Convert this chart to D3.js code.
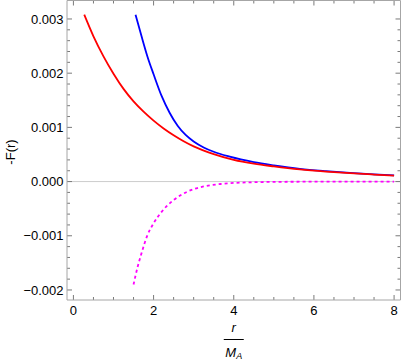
<!DOCTYPE html>
<html lang="en">
<head>
    <meta charset="UTF-8">
    <style>
        body {
            margin: 0;
            background: #fff;
        }
        text {
            font-family: "Liberation Sans", Arial, sans-serif;
            fill: #000;
        }
        .frame line {
            stroke: #a6a6a6;
            stroke-width: 1px;
        }
        .ticks line {
            stroke: #7a7a7a;
            stroke-width: 1px;
        }
    </style>
    <script src="https://d3js.org/d3.v7.min.js"></script>
</head>
<body>
    <svg width="402" height="360"></svg>
</body>

<script>
    // values (y in units of 0.001)
    var redX = [0.27, 0.5, 0.75, 1.0, 1.25, 1.5, 1.75, 2.0, 2.25, 2.5, 2.75, 3.0, 3.5, 4.0, 4.5, 5.0, 5.65, 6.3, 6.9, 7.5, 8.0];
    var redY = [3.08, 2.68, 2.31, 1.99, 1.71, 1.48, 1.29, 1.125, 0.98, 0.855, 0.745, 0.65, 0.506, 0.40, 0.33, 0.28, 0.225, 0.185, 0.155, 0.13, 0.11];

    var blueX = [1.55, 1.7, 1.85, 2.0, 2.2, 2.4, 2.6, 2.8, 3.0, 3.25, 3.5, 3.9, 4.5, 5.0, 5.65, 6.3, 6.9, 7.5, 8.0];
    var blueY = [3.08, 2.68, 2.30, 1.98, 1.58, 1.27, 1.03, 0.86, 0.74, 0.63, 0.55, 0.46, 0.36, 0.30, 0.235, 0.192, 0.16, 0.134, 0.113];

    var magentaX = [1.5, 1.6, 1.7, 1.83, 2.0, 2.21, 2.5, 2.83, 3.25, 3.67, 4.5, 5.5, 8.0];
    var magentaY = [-1.9, -1.58, -1.32, -1.02, -0.77, -0.55, -0.34, -0.19, -0.09, -0.045, -0.012, -0.003, 0];

    var xTicks = [0, 2, 4, 6, 8];
    var yTicks = [-0.002, -0.001, 0, 0.001, 0.002, 0.003];
    var yTickLabels = ["\u22120.002", "\u22120.001", "0.000", "0.001", "0.002", "0.003"];

    var svg = d3.select("svg");

    var padL = 67, padR = 400.5, padT = 0.5, padB = 300;

    var x = d3.scaleLinear().domain([-0.16, 8.16]).range([padL, padR]);
    var y = d3.scaleLinear().domain([-0.002185, 0.003341]).range([padB, padT]);

    // zero line
    svg.append("line")
        .attr("x1", padL).attr("x2", padR)
        .attr("y1", y(0)).attr("y2", y(0))
        .attr("stroke", "#cccccc").attr("stroke-width", 1);

    // minor / major ticks, pointing inward on all four sides
    var ticks = svg.append("g").attr("class", "ticks");
    var xMinor = d3.range(0, 8.01, 0.5);
    xMinor.forEach(function(v) {
        var len = (v % 2 === 0) ? 5 : 3;
        ticks.append("line").attr("x1", x(v)).attr("x2", x(v)).attr("y1", padB).attr("y2", padB - len);
        ticks.append("line").attr("x1", x(v)).attr("x2", x(v)).attr("y1", padT).attr("y2", padT + len);
    });
    var yMinor = d3.range(-2, 3.01, 0.2).map(function(v) { return Math.round(v * 10) / 10; });
    yMinor.forEach(function(v) {
        var len = (Math.abs(v - Math.round(v)) < 1e-6) ? 5 : 3;
        var yy = y(v / 1000);
        ticks.append("line").attr("x1", padL).attr("x2", padL + len).attr("y1", yy).attr("y2", yy);
        ticks.append("line").attr("x1", padR).attr("x2", padR - len).attr("y1", yy).attr("y2", yy);
    });

    // frame
    var frame = svg.append("g").attr("class", "frame");
    frame.append("line").attr("x1", padL).attr("x2", padL).attr("y1", padT).attr("y2", padB);
    frame.append("line").attr("x1", padR).attr("x2", padR).attr("y1", padT).attr("y2", padB);
    frame.append("line").attr("x1", padL).attr("x2", padR).attr("y1", padT).attr("y2", padT);
    frame.append("line").attr("x1", padL).attr("x2", padR).attr("y1", padB).attr("y2", padB);

    // tick labels
    svg.append("g").selectAll("text")
        .data(xTicks).enter()
        .append("text")
        .attr("x", function(d) { return x(d); })
        .attr("y", 315)
        .attr("text-anchor", "middle")
        .attr("font-size", "13px")
        .text(function(d) { return d; });

    svg.append("g").selectAll("text")
        .data(yTicks).enter()
        .append("text")
        .attr("x", 63.5)
        .attr("y", function(d) { return y(d); })
        .attr("dy", "0.36em")
        .attr("text-anchor", "end")
        .attr("font-size", "13px")
        .text(function(d, i) { return yTickLabels[i]; });

    // curves
    var line = d3.line()
        .x(function(d) { return x(d[0]); })
        .y(function(d) { return y(d[1] / 1000); })
        .curve(d3.curveMonotoneX);

    function pairs(xs, ys) {
        return xs.map(function(v, i) { return [v, ys[i]]; });
    }

    svg.append("path")
        .attr("d", line(pairs(magentaX, magentaY)))
        .attr("fill", "none").attr("stroke", "#ff00ff")
        .attr("stroke-width", 1.8).attr("stroke-dasharray", "3,3");

    svg.append("path")
        .attr("d", line(pairs(blueX, blueY)))
        .attr("fill", "none").attr("stroke", "#0000ff").attr("stroke-width", 1.8);

    svg.append("path")
        .attr("d", line(pairs(redX, redY)))
        .attr("fill", "none").attr("stroke", "#ff0000").attr("stroke-width", 1.8);

    // axis labels
    svg.append("text")
        .attr("transform", "translate(15,152) rotate(-90)")
        .attr("text-anchor", "middle")
        .attr("font-size", "13px")
        .text("-F(r)");

    var cx = (padL + padR) / 2;
    svg.append("text")
        .attr("x", cx).attr("y", 331.5)
        .attr("text-anchor", "middle")
        .attr("font-size", "13px")
        .attr("font-style", "italic")
        .text("r");
    svg.append("line")
        .attr("x1", cx - 10).attr("x2", cx + 10)
        .attr("y1", 339.5).attr("y2", 339.5)
        .attr("stroke", "#000").attr("stroke-width", 1);
    var m = svg.append("text")
        .attr("x", cx).attr("y", 356.5)
        .attr("text-anchor", "middle")
        .attr("font-size", "13px")
        .attr("font-style", "italic");
    m.append("tspan").text("M");
    m.append("tspan").attr("font-size", "9px").attr("dy", 2.5).text("A");
</script>
</html>
